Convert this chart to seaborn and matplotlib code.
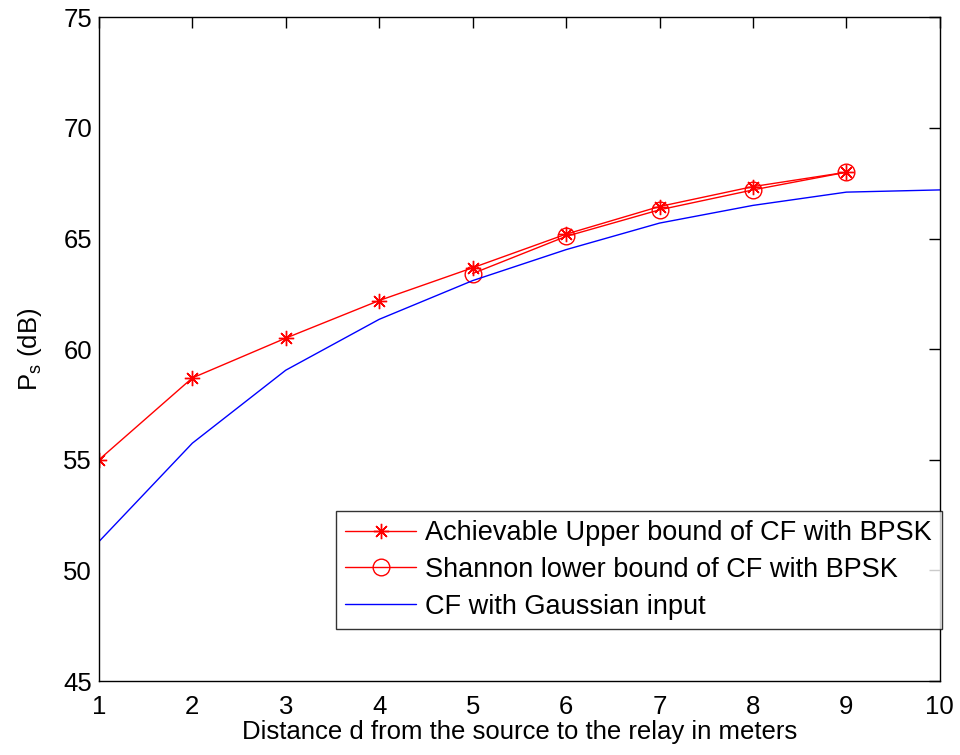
import matplotlib
matplotlib.use("Agg")
import matplotlib.pyplot as plt
import seaborn as sns
import pandas as pd

# Distance from source to relay (m) and required source power (dB)
d_upper = [1, 2, 3, 4, 5, 6, 7, 8, 9]
p_upper = [55.0, 58.7, 60.5, 62.2, 63.68, 65.2, 66.45, 67.35, 68.0]

d_lower = [5, 6, 7, 8, 9]
p_lower = [63.42, 65.1, 66.3, 67.2, 68.0]

d_gauss = [1, 2, 3, 4, 5, 6, 7, 8, 9, 10]
p_gauss = [51.3, 55.75, 59.05, 61.35, 63.1, 64.5, 65.7, 66.5, 67.1, 67.2]

labels = ["Achievable Upper bound of CF with BPSK",
          "Shannon lower bound of CF with BPSK",
          "CF with Gaussian input"]

sns.set_style("white")
plt.rcParams["font.family"] = ["Liberation Sans", "DejaVu Sans"]
plt.rcParams["mathtext.fontset"] = "custom"
plt.rcParams["mathtext.rm"] = "Liberation Sans"
plt.rcParams["mathtext.it"] = "Liberation Sans"
plt.rcParams["text.color"] = "black"
plt.rcParams["axes.labelcolor"] = "black"
plt.rcParams["xtick.color"] = "black"
plt.rcParams["ytick.color"] = "black"

FS = 18.5

fig = plt.figure(figsize=(9.6, 7.55), dpi=100)
ax = fig.add_axes([0.103, 0.098, 0.876, 0.879])

upper = pd.DataFrame({"d": d_upper, "p": p_upper})
lower = pd.DataFrame({"d": d_lower, "p": p_lower})
gauss = pd.DataFrame({"d": d_gauss, "p": p_gauss})

asterisk = (8, 2, 0)
sns.lineplot(data=upper, x="d", y="p", ax=ax, color="#ff0000", lw=1.0,
             marker=asterisk, markersize=11, markeredgewidth=1.0,
             markeredgecolor="#ff0000", label=labels[0])
sns.lineplot(data=lower, x="d", y="p", ax=ax, color="#ff0000", lw=1.0,
             marker="o", markersize=12, markerfacecolor="none",
             markeredgewidth=1.0, markeredgecolor="#ff0000", label=labels[1])
sns.lineplot(data=gauss, x="d", y="p", ax=ax, color="#0000ff", lw=1.0,
             label=labels[2])

ax.set_xlim(1, 10)
ax.set_ylim(45, 75)
ax.set_xticks(range(1, 11))
ax.set_yticks(range(45, 76, 5))
ax.tick_params(direction="in", length=8, width=1, top=True, right=True,
               labelsize=FS, colors="black")
ax.tick_params(axis="x", pad=10)
ax.tick_params(axis="y", pad=5)
for s in ax.spines.values():
    s.set_visible(True)
    s.set_color("black")
    s.set_linewidth(1.0)

ax.set_xlabel("Distance d from the source to the relay in meters", fontsize=FS, labelpad=1)
ax.set_ylabel(r"P$_\mathregular{s}$ (dB)", fontsize=FS, labelpad=14)

leg = ax.legend(loc="lower right", bbox_to_anchor=(1.002, 0.078), fontsize=19.5,
                frameon=True, fancybox=False, edgecolor="black",
                handlelength=2.6, borderpad=0.35, labelspacing=0.4,
                handletextpad=0.35, borderaxespad=0)
leg.get_frame().set_linewidth(1.0)

fig.savefig("out.png", dpi=100, facecolor="white")
